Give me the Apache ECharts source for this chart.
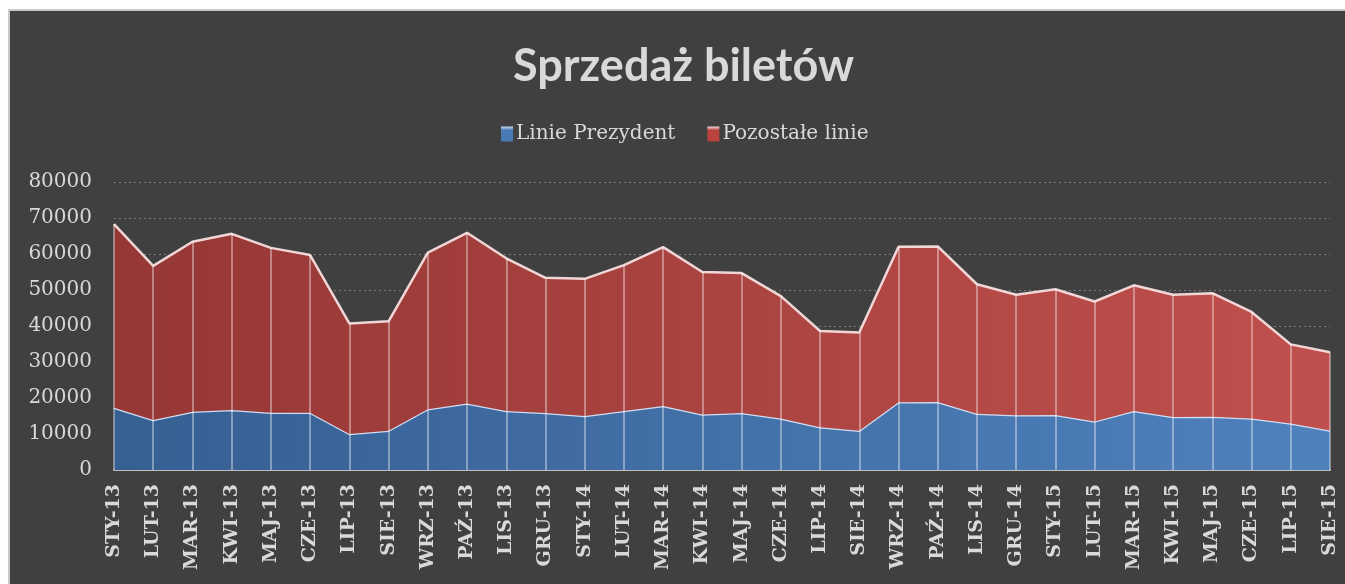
<!DOCTYPE html>
<html>
<head>
<meta charset="utf-8">
<title>Sprzedaż biletów</title>
<script src="https://cdn.jsdelivr.net/npm/echarts@6/dist/echarts.min.js"></script>
<style>
  html, body { margin: 0; padding: 0; background: #ffffff; overflow: hidden; width: 1345px; height: 584px; }
  #frame {
    position: absolute;
    left: 8px;
    top: 9px;
    width: 1337px;
    height: 575px;
    border-left: 2px solid #c8c8c8;
    border-top: 2px solid #c8c8c8;
    background: #404040;
    overflow: hidden;
  }
  #chart { width: 1345px; height: 573px; }
</style>
</head>
<body>
<div id="frame"><div id="chart"></div></div>
<script>
// miesiące
const months = [
  'STY-13', 'LUT-13', 'MAR-13', 'KWI-13', 'MAJ-13', 'CZE-13', 'LIP-13', 'SIE-13',
  'WRZ-13', 'PAŹ-13', 'LIS-13', 'GRU-13', 'STY-14', 'LUT-14', 'MAR-14', 'KWI-14',
  'MAJ-14', 'CZE-14', 'LIP-14', 'SIE-14', 'WRZ-14', 'PAŹ-14', 'LIS-14', 'GRU-14',
  'STY-15', 'LUT-15', 'MAR-15', 'KWI-15', 'MAJ-15', 'CZE-15', 'LIP-15', 'SIE-15'
]

// Linie Prezydent
const prezydent = [
  17300, 13900, 16200, 16700, 15900, 15900, 10000, 10900,
  16900, 18500, 16400, 15800, 15000, 16400, 17800, 15400,
  15800, 14300, 11900, 10900, 18800, 18900, 15600, 15200,
  15300, 13500, 16400, 14700, 14800, 14300, 12900, 11000
]

// Pozostałe linie
const pozostale = [
  51000, 42800, 47200, 48900, 45800, 43800, 30700, 30400,
  43500, 47400, 42400, 37600, 38100, 40500, 44100, 39600,
  38900, 34000, 26700, 27300, 43200, 43200, 36000, 33500,
  34900, 33300, 34900, 34000, 34300, 29600, 22000, 21700
]

const yTicks = { min: 0, max: 80000, interval: 10000 }

const labelColor = '#d9d9d9'
const serif = '"DejaVu Serif", serif'

// pionowe linie od osi do szczytu stosu
const dropLines = months.map((m, i) => [
  { coord: [i, 0] },
  { coord: [i, prezydent[i] + pozostale[i]] }
])

const grad = (from, to) =>
  new echarts.graphic.LinearGradient(0, 0, 1, 0, [
    { offset: 0, color: from },
    { offset: 1, color: to }
  ])

const legendGrad = (light, dark) =>
  new echarts.graphic.LinearGradient(0, 0, 0, 1, [
    { offset: 0, color: light },
    { offset: 0.25, color: dark },
    { offset: 1, color: dark }
  ])

const option = {
  backgroundColor: '#404040',
  animation: false,
  title: {
    text: 'Sprzedaż biletów',
    left: 498,
    top: 28,
    textStyle: {
      color: '#d9d9d9',
      fontFamily: 'Lato, sans-serif',
      fontWeight: 'bold',
      fontSize: 45
    }
  },
  legend: {
    top: 108,
    left: 486,
    icon: 'rect',
    itemWidth: 12,
    itemHeight: 15,
    itemGap: 32,
    textStyle: {
      color: labelColor,
      fontFamily: serif,
      fontSize: 20,
      padding: [0, 0, 0, -2]
    },
    data: [
      { name: 'Linie Prezydent', itemStyle: { color: legendGrad('#c6d9f1', '#4a7ab4') } },
      { name: 'Pozostałe linie', itemStyle: { color: legendGrad('#f2dcdb', '#b8433f') } }
    ]
  },
  grid: {
    left: 104,
    right: 25,
    top: 171,
    bottom: 114,
    containLabel: false
  },
  xAxis: {
    type: 'category',
    data: months,
    boundaryGap: false,
    axisLine: { lineStyle: { color: '#bfbfbf', width: 2 } },
    axisTick: { show: false },
    axisLabel: {
      rotate: 90,
      margin: 14,
      interval: 0,
      color: labelColor,
      fontFamily: serif,
      fontWeight: 'bold',
      fontSize: 19
    },
    splitLine: { show: false }
  },
  yAxis: {
    type: 'value',
    min: yTicks.min,
    max: yTicks.max,
    interval: yTicks.interval,
    axisLine: { show: false },
    axisTick: { show: false },
    axisLabel: {
      margin: 22,
      color: labelColor,
      fontFamily: serif,
      fontSize: 20,
      formatter: (v) => String(v)
    },
    splitLine: {
      lineStyle: { color: '#7a7a7a', type: [2, 3], width: 1 }
    }
  },
  series: [
    {
      name: 'Linie Prezydent',
      type: 'line',
      stack: 'bilety',
      data: prezydent,
      symbol: 'none',
      itemStyle: { color: '#4a7ab4' },
      lineStyle: { color: 'rgba(214, 228, 248, 0.95)', width: 2.5 },
      areaStyle: { color: grad('#365f92', '#4f81bd'), opacity: 1 },
      z: 2
    },
    {
      name: 'Pozostałe linie',
      type: 'line',
      stack: 'bilety',
      data: pozostale,
      symbol: 'none',
      itemStyle: { color: '#b8433f' },
      lineStyle: { color: 'rgba(248, 222, 222, 0.95)', width: 2.5 },
      areaStyle: { color: grad('#953735', '#c0504d'), opacity: 1 },
      markLine: {
        silent: true,
        symbol: ['none', 'none'],
        label: { show: false },
        lineStyle: { color: 'rgba(255, 255, 255, 0.5)', type: 'solid', width: 1.5 },
        data: dropLines
      },
      z: 3
    }
  ]
}

const myChart = echarts.init(document.getElementById('chart'))
myChart.setOption(option)
</script>
</body>
</html>
